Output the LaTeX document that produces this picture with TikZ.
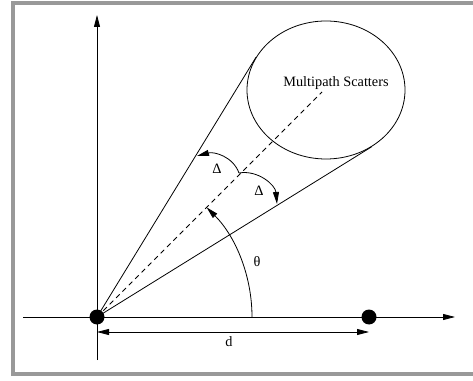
\documentclass[tikz,border=0pt]{standalone}
\usepackage{fontspec}
\setmainfont{Liberation Serif}
\usetikzlibrary{arrows.meta, shapes.geometric}

\begin{document}
\begin{tikzpicture}[x=1pt, y=1pt, line width=0.8pt,
    arr/.style={-{Triangle[length=12pt, width=6pt]}},
    dot/.style={circle, fill=black, inner sep=0pt, minimum size=15pt},
    lbl/.style={font=\fontsize{14.3}{16}\selectfont}]
  \useasboundingbox (0,0) rectangle (473,380);
  % frame
  \draw[black!40, line width=4pt] (473,6) -- (13,6) -- (13,377) -- (473,377);
  % axes
  \draw[arr] (23,63) -- (455,63);
  \draw[arr] (97,20) -- (97,365);
  \node[dot] (o) at (97,63) {};
  \node[dot] (rx) at (369,63) {};
  % separation d
  \coordinate (da) at (97,48);
  \coordinate (db) at (369,48);
  \draw[{Triangle[length=12pt, width=6pt]}-{Triangle[length=12pt, width=6pt]}] (da) -- (db);
  \node[lbl] (dlab) at (229,38) {d};
  % scatter region
  \node[ellipse, draw, minimum width=158pt, minimum height=138pt, inner sep=0pt] (scat) at (326,290) {};
  \node[lbl] (scatlab) at (336,297) {Multipath Scatters};
  \draw (o.center) -- (scat.155);
  \draw (o.center) -- (scat.309);
  \coordinate (dtip) at (322,288);
  \draw[dash pattern=on 5pt off 4pt] (o.center) -- (dtip);
  % angles
  \draw[arr] (252,63) arc[start angle=0, end angle=45, radius=155];
  \node[lbl] (thlab) at (257,118) {θ};
  \coordinate (j) at (239,207);
  \coordinate (ta) at (197,224);
  \coordinate (tb) at (277,176);
  \draw[arr] (j) to[out=110, in=15] (ta);
  \draw[arr] (j) to[out=10, in=95] (tb);
  \node[lbl] (dla) at (217,211) {Δ};
  \node[lbl] (dlb) at (259,189) {Δ};
\end{tikzpicture}
\end{document}
